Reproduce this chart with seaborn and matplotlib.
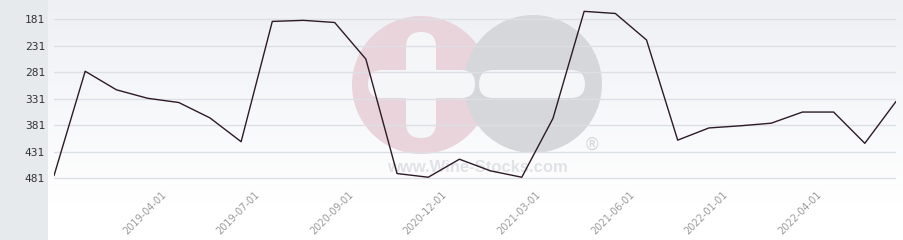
import numpy as np
import pandas as pd
import matplotlib
matplotlib.use("Agg")
import matplotlib.pyplot as plt
import seaborn as sns
from matplotlib.patches import Circle, FancyBboxPatch
from matplotlib.transforms import ScaledTranslation

# ---- data ----
ranks = [476, 279, 314, 330, 338, 367, 412, 185, 183, 187, 256, 472, 479, 445,
         467, 479, 368, 166, 170, 220, 409, 386, 382, 377, 356, 356, 415, 336]
tick_index = [4, 7, 10, 13, 16, 19, 22, 25]
tick_labels = ["2019-04-01", "2019-07-01", "2020-09-01", "2020-12-01",
               "2021-03-01", "2021-06-01", "2022-01-01", "2022-04-01"]
y_ticks = [181, 231, 281, 331, 381, 431, 481]

df = pd.DataFrame({"i": np.arange(len(ranks)), "rank": ranks})

sns.set_theme(style="white")
W, H = 904, 240
fig = plt.figure(figsize=(W / 100, H / 100), dpi=100)
fig.patch.set_facecolor("#e7eaed")

# background panel with gradient + watermark (pixel coordinates)
bg = fig.add_axes([48 / W, 0, (W - 48) / W, 1])
bg.set_xlim(48, W)
bg.set_ylim(H, 0)
bg.axis("off")
top = np.array([0xee, 0xf0, 0xf4]) / 255
bot = np.array([1.0, 1.0, 1.0])
t = np.clip(np.linspace(0, 1, H) / 0.85, 0, 1)[:, None]
grad = (top * (1 - t) + bot * t)[:, None, :]
bg.imshow(grad, extent=(48, W, H, 0), aspect="auto", zorder=0)
bg.add_patch(Circle((421, 85), 69, color="#ead4db", zorder=1, lw=0))
bg.add_patch(Circle((533, 84), 69, color="#d6d7da", zorder=2, lw=0))
white = "#f5f6f8"
bg.add_patch(FancyBboxPatch((406 + 15, 32 + 15), 0.01, 106 - 30,
                            boxstyle="round,pad=15", color=white, lw=0, zorder=3))
bg.add_patch(FancyBboxPatch((368 + 14, 70 + 14), 107 - 28, 0.01,
                            boxstyle="round,pad=14", color=white, lw=0, zorder=3))
bg.add_patch(FancyBboxPatch((479 + 14, 70 + 14), 106 - 28, 0.01,
                            boxstyle="round,pad=14", color=white, lw=0, zorder=3))
bg.text(477, 167, "www.Wine-Stocks.com", ha="center", va="center",
        fontsize=12, fontweight="bold", color="#e1e2e6", zorder=4,
        family="Liberation Sans")
bg.text(592, 145, "®", ha="center", va="center", fontsize=12,
        color="#d6d7da", zorder=4, family="DejaVu Sans")

# main axes
ax_bottom_px = 185
ax = fig.add_axes([54 / W, (H - ax_bottom_px) / H, 842 / W, ax_bottom_px / H])
ax.patch.set_alpha(0)
px_per_unit = (178.3 - 19.3) / 300.0
y_top = 181 - 19.3 / px_per_unit
y_bot = 181 + (ax_bottom_px - 19.3) / px_per_unit

sns.lineplot(data=df, x="i", y="rank", ax=ax, color="#2d1a26", lw=1.0)
ax.set_xlim(0, len(ranks) - 1)
ax.set_ylim(y_bot, y_top)
ax.set_xlabel("")
ax.set_ylabel("")
for s in ax.spines.values():
    s.set_visible(False)

ax.set_yticks(y_ticks)
ax.set_yticklabels([str(v) for v in y_ticks], family="DejaVu Sans Mono",
                   fontsize=8, color="#333333")
ax.tick_params(axis="y", length=0, pad=6.5)
ax.yaxis.grid(True, color="#dedfe5", lw=1.0)
ax.xaxis.grid(False)
ax.set_axisbelow(True)

ax.set_xticks(tick_index)
ax.set_xticklabels(tick_labels, rotation=45, ha="right", va="center",
                   rotation_mode="anchor", fontsize=7, color="#9a9a9a")
ax.tick_params(axis="x", length=0, pad=6)
off = ScaledTranslation(-14 / 100, 0, fig.dpi_scale_trans)
for lab in ax.get_xticklabels():
    lab.set_transform(lab.get_transform() + off)

fig.savefig("out.png", dpi=100, facecolor=fig.get_facecolor())
